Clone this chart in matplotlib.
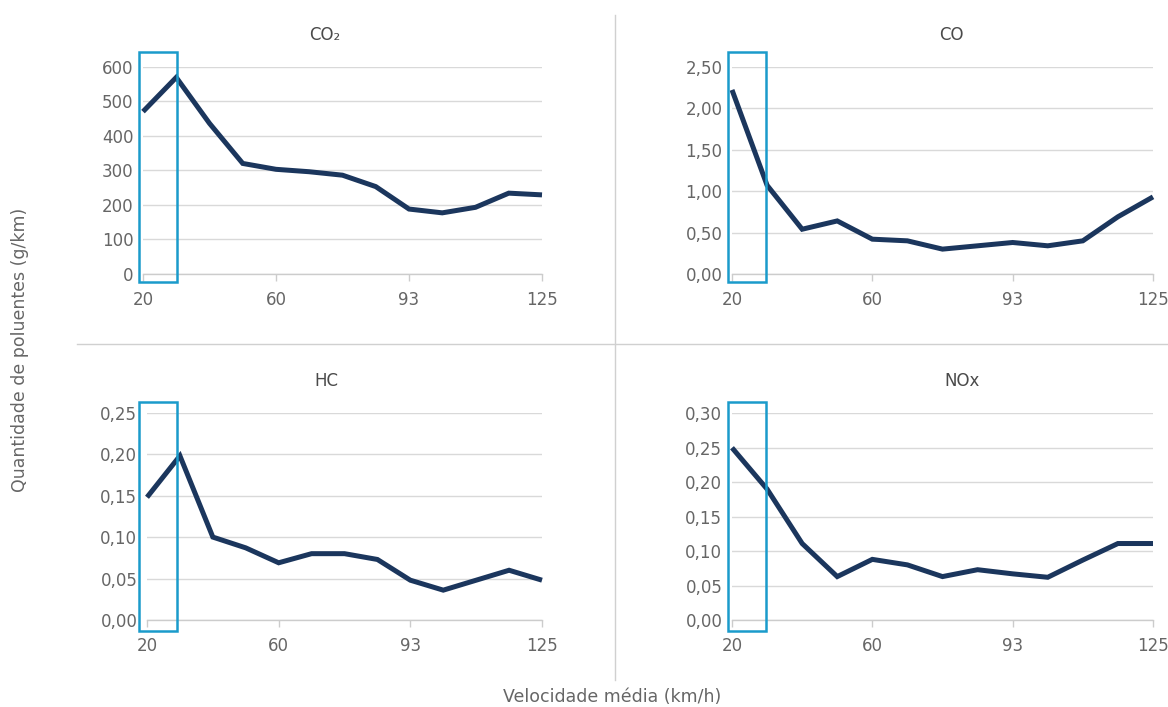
import matplotlib
matplotlib.use("Agg")
import matplotlib.pyplot as plt
from matplotlib.lines import Line2D
from matplotlib.patches import Rectangle
from matplotlib.ticker import FuncFormatter

plt.rcParams['font.family'] = ['DejaVu Sans']

# ---- data ----
tick_positions = [0, 4, 8, 12]
tick_labels = ["20", "60", "93", "125"]

co2 = [470, 569, 436, 320, 303, 296, 286, 253, 188, 177, 193, 234, 229]
co = [2.22, 1.07, 0.54, 0.64, 0.42, 0.40, 0.30, 0.34, 0.38, 0.34, 0.40, 0.69, 0.93]
hc = [0.148, 0.198, 0.100, 0.087, 0.069, 0.080, 0.080, 0.073, 0.048, 0.036, 0.048, 0.060, 0.048]
nox = [0.25, 0.19, 0.111, 0.063, 0.088, 0.080, 0.063, 0.073, 0.067, 0.062, 0.087, 0.111, 0.111]

titles = ["CO\u2082", "CO", "HC", "NOx"]
y_ticks = [
    [0, 100, 200, 300, 400, 500, 600],
    [0, 0.5, 1.0, 1.5, 2.0, 2.5],
    [0, 0.05, 0.10, 0.15, 0.20, 0.25],
    [0, 0.05, 0.10, 0.15, 0.20, 0.25, 0.30],
]
y_decimals = [0, 2, 2, 2]
series = [co2, co, hc, nox]

# ---- layout (pixels) ----
W, H = 1168, 707
fig = plt.figure(figsize=(W / 100, H / 100), dpi=100)

boxes_px = [
    (143, 66.7, 542, 274),
    (732, 66.7, 1153, 274),
    (147, 412.7, 542, 620),
    (732, 413.3, 1153, 620),
]
title_px = [(325, 35), (951, 35), (326, 381), (962, 381)]
hl_px = [
    (139.3, 52.3, 177.3, 282.3),
    (728.3, 52.3, 766, 282.3),
    (139.3, 401.7, 177.3, 631),
    (728.3, 402.3, 766, 631),
]

line_color = "#1b365d"
grid_color = "#d9d9d9"
text_color = "#666666"
hl_color = "#1a9bcb"
fs = 12

for i in range(4):
    l, t, r, b = boxes_px[i]
    ax = fig.add_axes([l / W, 1 - b / H, (r - l) / W, (b - t) / H])
    yt = y_ticks[i]
    ax.plot(range(len(series[i])), series[i], color=line_color, lw=3.6,
            solid_joinstyle="miter", solid_capstyle="butt", clip_on=False, zorder=3)
    ax.set_xlim(0, len(series[i]) - 1)
    ax.set_ylim(yt[0], yt[-1])
    ax.set_yticks(yt)
    d = y_decimals[i]
    ax.yaxis.set_major_formatter(FuncFormatter(
        lambda v, p, d=d: (f"{v:.{d}f}").replace(".", ",")))
    ax.set_xticks(tick_positions)
    ax.set_xticklabels(tick_labels)
    for s in ["top", "right", "left"]:
        ax.spines[s].set_visible(False)
    ax.spines["bottom"].set_color("#cccccc")
    ax.spines["bottom"].set_linewidth(1.0)
    ax.grid(axis="y", color=grid_color, lw=1.0)
    ax.set_axisbelow(True)
    ax.tick_params(axis="y", length=0, pad=7, labelsize=fs, labelcolor=text_color)
    ax.tick_params(axis="x", length=5, width=1, color="#cccccc", pad=7,
                   labelsize=fs, labelcolor=text_color)
    ax.patch.set_alpha(0)

    hl, ht, hr, hb = hl_px[i]
    rect = Rectangle((hl / W, 1 - hb / H), (hr - hl) / W, (hb - ht) / H,
                     transform=fig.transFigure, fill=False, edgecolor=hl_color,
                     lw=1.8, zorder=5, clip_on=False)
    fig.add_artist(rect)

    tx, ty = title_px[i]
    fig.text(tx / W, 1 - ty / H, titles[i], ha="center", va="center",
             fontsize=fs, color="#4a4a4a")

fig.add_artist(Line2D([615 / W, 615 / W], [1 - 15 / H, 1 - 680 / H],
                      transform=fig.transFigure, color="#d0d0d0", lw=1.0))
fig.add_artist(Line2D([77 / W, 1.0], [1 - 344 / H, 1 - 344 / H],
                      transform=fig.transFigure, color="#d0d0d0", lw=1.0))

fig.text(20 / W, 1 - 350 / H, "Quantidade de poluentes (g/km)", rotation=90,
         ha="center", va="center", fontsize=fs + 0.5, color=text_color)
fig.text(612 / W, 1 - 697 / H, "Velocidade média (km/h)", ha="center",
         va="center", fontsize=fs + 0.5, color=text_color)

fig.savefig("out.png", dpi=100)
